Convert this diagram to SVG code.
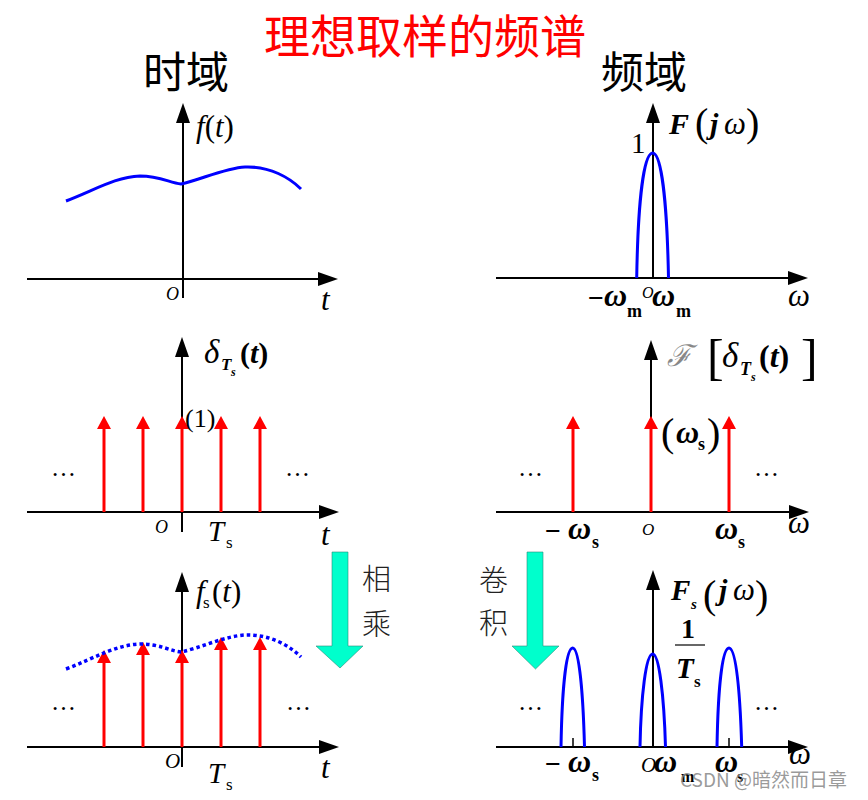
<svg xmlns="http://www.w3.org/2000/svg" width="868" height="800" viewBox="0 0 868 800">
<style>
.ax{stroke:#000;stroke-width:2;fill:none;marker-end:url(#ah)}
.imp{stroke:#f00;stroke-width:3;fill:none;marker-end:url(#rh)}
.blue{stroke:#0000ff;stroke-width:3;fill:none}
.dot{stroke:#0000ff;stroke-width:3.5;fill:none;stroke-dasharray:3.5 3}
.m{font-family:"Liberation Serif","Times New Roman",serif;fill:#000}
.i{font-style:italic}
.b{font-weight:bold}
.cjk{font-family:"Noto Sans CJK SC",sans-serif}
.big{font-family:"Liberation Serif",serif;font-size:40px;fill:#000}
.cyan{fill:#00ffcc;stroke:#2a8a7a;stroke-width:0.6}
.tick{stroke:#000;stroke-width:1.5}
</style>
<defs>
<marker id="ah" markerUnits="userSpaceOnUse" markerWidth="20" markerHeight="14" refX="16" refY="7" orient="auto"><path d="M0,0 L20,7 L0,14 Z" fill="#000"/></marker>
<marker id="rh" markerUnits="userSpaceOnUse" markerWidth="13" markerHeight="14" refX="9" refY="7" orient="auto"><path d="M0,0 L13,7 L0,14 Z" fill="#f00"/></marker>
<path id="fcurve" d="M66,201 C95,190 115,177 140,176 C160,176 170,183 181,184 C200,180 225,168 245,167 C270,166 290,178 301,189"/>
</defs>

<g id="titles">
<text x="425" y="53" text-anchor="middle" class="cjk" font-size="46" fill="#f00">理想取样的频谱</text>
<text x="143" y="88" class="cjk" font-size="43" fill="#000">时域</text>
<text x="601" y="88" class="cjk" font-size="43" fill="#000">频域</text>
</g>

<g id="time-signal">
<path class="ax" d="M27,279 H334"/>
<path class="ax" d="M183,298 V107"/>
<use href="#fcurve" class="blue"/>
<text x="196" y="137" class="m" font-size="31"><tspan class="i">f</tspan>(<tspan class="i">t</tspan>)</text>
<text x="166" y="300" class="m i" font-size="18">O</text>
<text x="321" y="310" class="m i" font-size="31">t</text>
</g>

<g id="freq-signal">
<path class="ax" d="M496,278 H804"/>
<path class="ax" d="M653,278 V107"/>
<path class="blue" d="M636.7,278 C638,200 644,153 652.7,153 C661,153 667,200 668.5,278"/>
<text x="631" y="153" class="m" font-size="29">1</text>
<text x="669" y="134" class="m b i" font-size="30">F</text>
<text x="695" y="136" class="big">(</text>
<text x="710" y="134" class="m b i" font-size="30">j</text>
<text x="724" y="134" class="m i" font-size="31">ω</text>
<text x="746" y="136" class="big">)</text>
<text x="588" y="307" class="m b" font-size="28">−</text>
<text x="604" y="306" class="m b i" font-size="32">ω</text>
<text x="627" y="317" class="m b" font-size="18">m</text>
<text x="642" y="298" class="m i" font-size="16">O</text>
<text x="652" y="306" class="m b i" font-size="32">ω</text>
<text x="676" y="317" class="m b" font-size="18">m</text>
<text x="788" y="306" class="m i" font-size="31">ω</text>
</g>

<g id="time-impulses">
<path class="ax" d="M27,512 H335"/>
<path class="ax" d="M182,532 V341"/>
<path class="imp" d="M104,512 V420"/>
<path class="imp" d="M143,512 V420"/>
<path class="imp" d="M182,512 V420"/>
<path class="imp" d="M221,512 V420"/>
<path class="imp" d="M260,512 V420"/>
<text x="185" y="427" class="m" font-size="26">(1)</text>
<text x="204" y="363" class="m i" font-size="33">δ</text>
<text x="221" y="370" class="m b i" font-size="17">T</text>
<text x="231" y="376" class="m b i" font-size="12">s</text>
<text x="240" y="363" class="m b" font-size="30">(<tspan class="i">t</tspan>)</text>
<text x="51" y="476" class="m" font-size="25">…</text>
<text x="285" y="476" class="m" font-size="25">…</text>
<text x="155" y="533" class="m i" font-size="18">O</text>
<text x="208" y="541" class="m i" font-size="29">T</text>
<text x="226" y="548" class="m" font-size="17">s</text>
<text x="321" y="545" class="m i" font-size="31">t</text>
</g>

<g id="freq-impulses">
<path class="ax" d="M496,512 H805"/>
<path class="ax" d="M651,512 V344"/>
<path class="imp" d="M573,512 V420"/>
<path class="imp" d="M651,512 V420"/>
<path class="imp" d="M729,512 V420"/>
<text x="667" y="366" font-family="DejaVu Serif,serif" font-style="italic" font-size="30" fill="#888">ℱ</text>
<text x="707" y="374" class="big" style="font-size:50px">[</text>
<text x="722" y="367" class="m i" font-size="35">δ</text>
<text x="740" y="375" class="m b i" font-size="18">T</text>
<text x="751" y="381" class="m b i" font-size="12">s</text>
<text x="759" y="367" class="m b" font-size="32">(<tspan class="i">t</tspan>)</text>
<text x="801" y="374" class="big" style="font-size:50px">]</text>
<text x="661" y="446" class="big">(</text>
<text x="676" y="443" class="m b i" font-size="32">ω</text>
<text x="698" y="450" class="m b" font-size="18">s</text>
<text x="707" y="446" class="big">)</text>
<text x="518" y="476" class="m" font-size="25">…</text>
<text x="754" y="476" class="m" font-size="25">…</text>
<text x="545" y="540" class="m b" font-size="28">−</text>
<text x="568" y="539" class="m b i" font-size="32">ω</text>
<text x="592" y="548" class="m b" font-size="18">s</text>
<text x="642" y="535" class="m i" font-size="17">O</text>
<text x="715" y="539" class="m b i" font-size="32">ω</text>
<text x="738" y="548" class="m b" font-size="18">s</text>
<text x="788" y="533" class="m i" font-size="31">ω</text>
</g>

<g id="time-sampled">
<path class="ax" d="M27,747 H335"/>
<path class="ax" d="M182,767 V576"/>
<path class="imp" d="M104,747 V654"/>
<path class="imp" d="M143,747 V646"/>
<path class="imp" d="M182,747 V654"/>
<path class="imp" d="M221,747 V641"/>
<path class="imp" d="M260,747 V641"/>
<use href="#fcurve" class="dot" transform="translate(0,468)"/>
<text x="196" y="602" class="m i" font-size="31">f</text>
<text x="203" y="608" class="m" font-size="17">s</text>
<text x="212" y="602" class="m" font-size="31">(<tspan class="i">t</tspan>)</text>
<text x="51" y="710" class="m" font-size="25">…</text>
<text x="286" y="710" class="m" font-size="25">…</text>
<text x="165" y="768" class="m i" font-size="21">O</text>
<text x="208" y="783" class="m i" font-size="29">T</text>
<text x="226" y="790" class="m" font-size="17">s</text>
<text x="321" y="778" class="m i" font-size="31">t</text>
</g>

<g id="multiply-arrow">
<polygon class="cyan" points="332,552 348,552 348,646 363,646 340,668 316,646 332,646"/>
<text x="362" y="590" class="cjk" font-size="29" font-weight="300" fill="#222">相</text>
<text x="362" y="635" class="cjk" font-size="29" font-weight="300" fill="#222">乘</text>
</g>

<g id="freq-sampled">
<path class="ax" d="M496,747 H804"/>
<path class="ax" d="M653,747 V574"/>
<path class="tick" d="M573,738 V747 M729,738 V747"/>
<path class="blue" d="M561,747 C562,690 566,648 572.7,648 C579,648 583,690 584.5,747"/>
<path class="blue" d="M640,747 C641,695 646,654 652.7,654 C659,654 664,695 665.5,747"/>
<path class="blue" d="M717,747 C718,690 722,648 729,648 C736,648 740,690 741.7,747"/>
<text x="671" y="600" class="m b i" font-size="29">F</text>
<text x="691" y="609" class="m b i" font-size="15">s</text>
<text x="703" y="608" class="big">(</text>
<text x="719" y="600" class="m b i" font-size="30">j</text>
<text x="733" y="600" class="m i" font-size="31">ω</text>
<text x="755" y="608" class="big">)</text>
<text x="681" y="638" class="m b" font-size="28">1</text>
<path d="M675,645 H705" stroke="#000" stroke-width="1.2"/>
<text x="676" y="678" class="m b i" font-size="29">T</text>
<text x="694" y="687" class="m b" font-size="17">s</text>
<text x="518" y="710" class="m" font-size="25">…</text>
<text x="754" y="710" class="m" font-size="25">…</text>
<text x="545" y="773" class="m b" font-size="28">−</text>
<text x="568" y="772" class="m b i" font-size="32">ω</text>
<text x="592" y="781" class="m b" font-size="18">s</text>
<text x="641" y="772" class="m i" font-size="21">O</text>
<text x="654" y="772" class="m b i" font-size="32">ω</text>
<text x="681" y="782" class="m b" font-size="16">m</text>
<text x="715" y="772" class="m b i" font-size="32">ω</text>
<text x="737" y="782" class="m b" font-size="16">s</text>
<text x="789" y="764" class="m i" font-size="31">ω</text>
</g>

<g id="convolve-arrow">
<polygon class="cyan" points="527,552 543,552 543,646 559,646 535.5,669 512,646 527,646"/>
<text x="479" y="591" class="cjk" font-size="29" font-weight="300" fill="#222">卷</text>
<text x="479" y="634" class="cjk" font-size="29" font-weight="300" fill="#222">积</text>
</g>

<g id="watermark">
<text x="680" y="787" class="cjk" font-size="19" fill="#888" fill-opacity="0.85">CSDN @暗然而日章</text>
</g>
</svg>
